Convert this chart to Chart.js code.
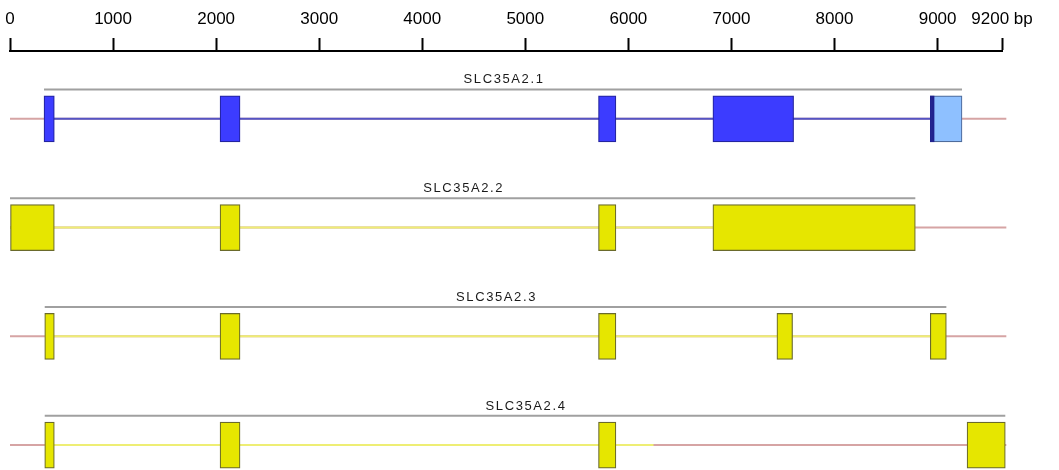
<!DOCTYPE html>
<html>
<head>
<meta charset="utf-8">
<script src="https://cdn.jsdelivr.net/npm/chart.js@4.4.1/dist/chart.umd.min.js"></script>
<style>
  body { margin: 0; background: #fff; }
  #wrap { width: 1059px; height: 470px; }
</style>
</head>
<body>
<div id="wrap"><canvas id="geneChart"></canvas></div>
<script>
// transcripts, top to bottom
var tracks = ['SLC35A2.1', 'SLC35A2.2', 'SLC35A2.3', 'SLC35A2.4'];

// axis ticks (the "9200 bp" end mark sits further right than its value in the picture)
var tickValues = [0, 1000, 2000, 3000, 4000, 5000, 6000, 7000, 8000, 9000, 9625];
var tickLabels = ['0', '1000', '2000', '3000', '4000', '5000', '6000', '7000', '8000', '9000', '9200 bp'];

// transcript span (grey bar above each track)
var spanStart = [330, 0, 337, 337];
var spanEnd = [9237, 8784, 9085, 9657];

// intron line of each transcript
var intronStart = [330, 0, 337, 337];
var intronEnd = [8929, 8784, 9085, 6244];

// flanking region (pink line)
var flankStart = [0, 0, 0, 0];
var flankEnd = [9667, 9667, 9667, 9667];

// exons [start, end] in bp
var exons1 = [[330, 430], [2038, 2232], [5710, 5879], [6820, 7603]];
var utr1 = [[8929, 9237]];
var cdsEnd1 = [[8929, 8968]];
var exons2 = [[0, 430], [2038, 2232], [5710, 5879], [6820, 8784]];
var exons3 = [[337, 430], [2038, 2232], [5710, 5879], [7441, 7593], [8929, 9085]];
var exons4 = [[337, 430], [2038, 2232], [5710, 5879], [9286, 9657]];

var SPAN_OFFSET = 0.27;   // grey span sits above the track centre
var LABEL_OFFSET = 0.36;

function bars(list, track) {
  return list.map(function (e) { return { x: e, y: track }; });
}

function barSet(data, fill, border, order) {
  return {
    type: 'bar', indexAxis: 'y', data: data,
    backgroundColor: fill, borderColor: border, borderWidth: 1.2,
    borderSkipped: false, barThickness: 46, grouped: false,
    clip: false, order: order
  };
}

function lineSet(x0, x1, y, color, order) {
  return {
    type: 'line', data: [{ x: x0, y: y }, { x: x1, y: y }],
    borderColor: color, borderWidth: 2, pointRadius: 0,
    fill: false, clip: false, order: order
  };
}

var datasets = [];
tracks.forEach(function (name, i) {
  datasets.push(lineSet(flankStart[i], flankEnd[i], i, '#d6a4a4', 3));
  datasets.push(lineSet(intronStart[i], intronEnd[i], i, i === 0 ? '#5454c4' : '#eeee74', 2));
  datasets.push(lineSet(spanStart[i], spanEnd[i], i - SPAN_OFFSET, '#a0a0a0', 2));
});

datasets.push(barSet(bars(exons1, 0), '#3c3cff', '#2424a0', 0));
datasets.push(barSet(bars(utr1, 0), '#8ec0ff', '#4e6c9c', 0));
datasets.push(barSet(bars(cdsEnd1, 0), '#22228e', '#22228e', -1));
datasets.push(barSet(bars(exons2, 1).concat(bars(exons3, 2), bars(exons4, 3)), '#e6e600', '#6a6a2c', 0));

// transcript names, centred over their span
var trackLabels = {
  id: 'trackLabels',
  afterDatasetsDraw: function (chart) {
    var ctx = chart.ctx;
    var xs = chart.scales.x, ys = chart.scales.y;
    ctx.save();
    ctx.font = '13px "Liberation Sans", Arial, sans-serif';
    ctx.fillStyle = '#1a1a1a';
    ctx.textAlign = 'center';
    ctx.textBaseline = 'middle';
    if ('letterSpacing' in ctx) ctx.letterSpacing = '1.6px';
    tracks.forEach(function (name, i) {
      var x = (xs.getPixelForValue(spanStart[i]) + xs.getPixelForValue(spanEnd[i])) / 2;
      ctx.fillText(name, x + 1, ys.getPixelForValue(i - LABEL_OFFSET));
    });
    ctx.restore();
  }
};

new Chart(document.getElementById('geneChart'), {
  type: 'line',
  data: { datasets: datasets },
  plugins: [trackLabels],
  options: {
    responsive: true,
    maintainAspectRatio: false,
    animation: false,
    layout: { padding: { top: 1, left: 10, right: 57, bottom: 0 } },
    plugins: { legend: { display: false }, tooltip: { enabled: false } },
    scales: {
      x: {
        type: 'linear',
        position: 'top',
        offset: false,
        min: 0,
        max: tickValues[tickValues.length - 1],
        afterBuildTicks: function (scale) {
          scale.ticks = tickValues.map(function (v) { return { value: v }; });
        },
        ticks: {
          autoSkip: false,
          maxRotation: 0,
          padding: 4,
          color: '#000',
          font: { family: '"Liberation Sans", Arial, sans-serif', size: 17, lineHeight: '29px' },
          callback: function (value, index) { return tickLabels[index]; }
        },
        grid: {
          drawOnChartArea: false,
          drawTicks: true,
          tickLength: 13,
          tickWidth: 2,
          tickColor: '#000'
        },
        border: { display: true, color: '#000', width: 2 }
      },
      y: {
        type: 'linear',
        display: false,
        offset: false,
        reverse: true,
        min: -0.624,
        max: 3.229
      }
    }
  }
});
</script>
</body>
</html>
